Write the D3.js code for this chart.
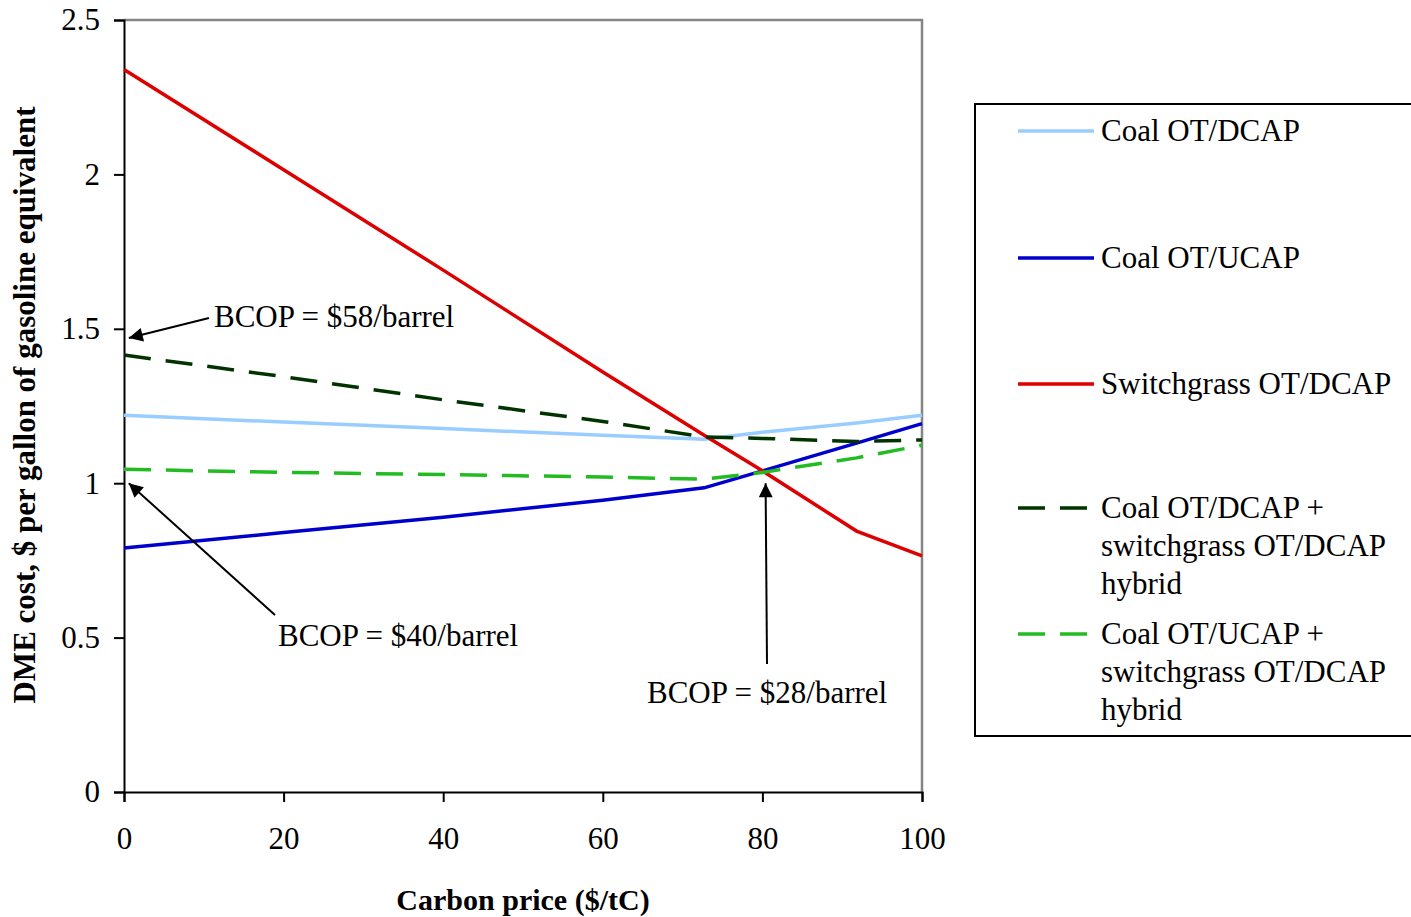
<!DOCTYPE html>
<html>
<head>
<meta charset="utf-8">
<script src="https://cdn.jsdelivr.net/npm/d3@7"></script>
<style>
  body { margin: 0; background: #fff; }
  text { font-family: "Liberation Serif", "Times New Roman", serif; }
</style>
</head>
<body>
<svg id="chart" width="1411" height="917"></svg>
<script>
// carbon price points ($/tC)
const carbonPrice = [0, 20, 40, 60, 72.7, 80, 91.8, 100]

// DME cost, $ per gallon of gasoline equivalent
const coalDcap   = [1.22, 1.198, 1.177, 1.155, 1.142, 1.165, 1.195, 1.22]
const coalUcap   = [0.79, 0.84, 0.89, 0.945, 0.985, 1.04, 1.13, 1.193]
const switchDcap = [2.34, 2.015, 1.69, 1.36, 1.155, 1.04, 0.845, 0.765]
const hybridDcap = [1.415, 1.345, 1.27, 1.2, 1.15, 1.145, 1.135, 1.14]
const hybridUcap = [1.045, 1.035, 1.028, 1.02, 1.013, 1.035, 1.082, 1.123]

const xTicks = [0, 20, 40, 60, 80, 100]
const yTicks = [0, 0.5, 1, 1.5, 2, 2.5]

const series = [
  {name: ["Coal OT/DCAP"], values: coalDcap, color: "#99ccff", dash: null},
  {name: ["Coal OT/UCAP"], values: coalUcap, color: "#0000cc", dash: null},
  {name: ["Switchgrass OT/DCAP"], values: switchDcap, color: "#dd0000", dash: null},
  {name: ["Coal OT/DCAP +", "switchgrass OT/DCAP", "hybrid"], values: hybridDcap, color: "#003300", dash: "27,15"},
  {name: ["Coal OT/UCAP +", "switchgrass OT/DCAP", "hybrid"], values: hybridUcap, color: "#22bb22", dash: "27,15"}
]

const notes = [
  {label: "BCOP = $58/barrel", tx: 214, ty: 327, from: [209, 318], to: [0.6, 1.47]},
  {label: "BCOP = $40/barrel", tx: 278, ty: 646, from: [275, 615], to: [0.6, 1.0]},
  {label: "BCOP = $28/barrel", tx: 647, ty: 703, from: [767, 664], to: [80.4, 1.0]}
]

const fontSize = 31

const svg = d3.select("#chart")
const plot = {left: 124, top: 20, right: 922, bottom: 792}

const x = d3.scaleLinear().domain([0, 100]).range([plot.left, plot.right])
const y = d3.scaleLinear().domain([0, 2.5]).range([plot.bottom, plot.top])

// arrow head marker
svg.append("defs").append("marker")
  .attr("id", "arrow-head")
  .attr("viewBox", "0 0 10 10")
  .attr("refX", 10)
  .attr("refY", 5)
  .attr("markerWidth", 19)
  .attr("markerHeight", 14)
  .attr("markerUnits", "userSpaceOnUse")
  .attr("orient", "auto")
  .append("path").attr("d", "M 0 0 L 10 5 L 0 10 z").attr("fill", "#000")

// gray frame on top and right
svg.append("path")
  .attr("d", `M${plot.left},${plot.top} H${plot.right} V${plot.bottom}`)
  .attr("fill", "none")
  .attr("stroke", "#858585")
  .attr("stroke-width", 2.5)

// axes
const xAxis = svg.append("g")
  .attr("transform", `translate(0,${plot.bottom})`)
  .call(d3.axisBottom(x).tickValues(xTicks).tickSize(10).tickPadding(25).tickFormat(d3.format("d")))
const yAxis = svg.append("g")
  .attr("transform", `translate(${plot.left},0)`)
  .call(d3.axisLeft(y).tickValues(yTicks).tickSize(10).tickPadding(14).tickFormat(d => d))

;[xAxis, yAxis].forEach(g => {
  g.select(".domain").attr("stroke", "#000").attr("stroke-width", 2)
  g.selectAll(".tick line").attr("stroke", "#000").attr("stroke-width", 2)
  g.selectAll(".tick text")
    .attr("font-family", "Liberation Serif, Times New Roman, serif")
    .attr("font-size", fontSize)
    .attr("fill", "#000")
})
yAxis.selectAll(".tick text").attr("dy", "0.32em")

// lines
const line = d3.line()
  .x((d, i) => x(carbonPrice[i]))
  .y(d => y(d))

svg.append("g").selectAll("path")
  .data(series)
  .join("path")
  .attr("d", d => line(d.values))
  .attr("fill", "none")
  .attr("stroke", d => d.color)
  .attr("stroke-width", 3.5)
  .attr("stroke-dasharray", d => d.dash)

// annotations
const ann = svg.append("g")
notes.forEach(n => {
  ann.append("line")
    .attr("x1", n.from[0]).attr("y1", n.from[1])
    .attr("x2", x(n.to[0])).attr("y2", y(n.to[1]))
    .attr("stroke", "#000")
    .attr("stroke-width", 2)
    .attr("marker-end", "url(#arrow-head)")
  ann.append("text")
    .attr("x", n.tx).attr("y", n.ty)
    .attr("font-size", fontSize)
    .text(n.label)
})

// axis titles
svg.append("text")
  .attr("x", 523).attr("y", 910)
  .attr("text-anchor", "middle")
  .attr("font-size", 30)
  .attr("font-weight", "bold")
  .text("Carbon price ($/tC)")

svg.append("text")
  .attr("transform", "translate(35,405) rotate(-90)")
  .attr("text-anchor", "middle")
  .attr("font-size", 31)
  .attr("font-weight", "bold")
  .text("DME cost, $ per gallon of gasoline equivalent")

// legend
const legend = svg.append("g")
legend.append("rect")
  .attr("x", 975).attr("y", 104)
  .attr("width", 450).attr("height", 632)
  .attr("fill", "#fff")
  .attr("stroke", "#000")
  .attr("stroke-width", 2)

const legendY = [131, 258, 384, 508, 634]
series.forEach((s, i) => {
  const g = legend.append("g").attr("transform", `translate(0,${legendY[i]})`)
  g.append("line")
    .attr("x1", 1018).attr("x2", 1094)
    .attr("stroke", s.color)
    .attr("stroke-width", 3.5)
    .attr("stroke-dasharray", s.dash)
  const t = g.append("text")
    .attr("x", 1101).attr("y", 10)
    .attr("font-size", fontSize)
  s.name.forEach((ln, j) => {
    t.append("tspan").attr("x", 1101).attr("dy", j === 0 ? 0 : 38).text(ln)
  })
})
</script>
</body>
</html>
